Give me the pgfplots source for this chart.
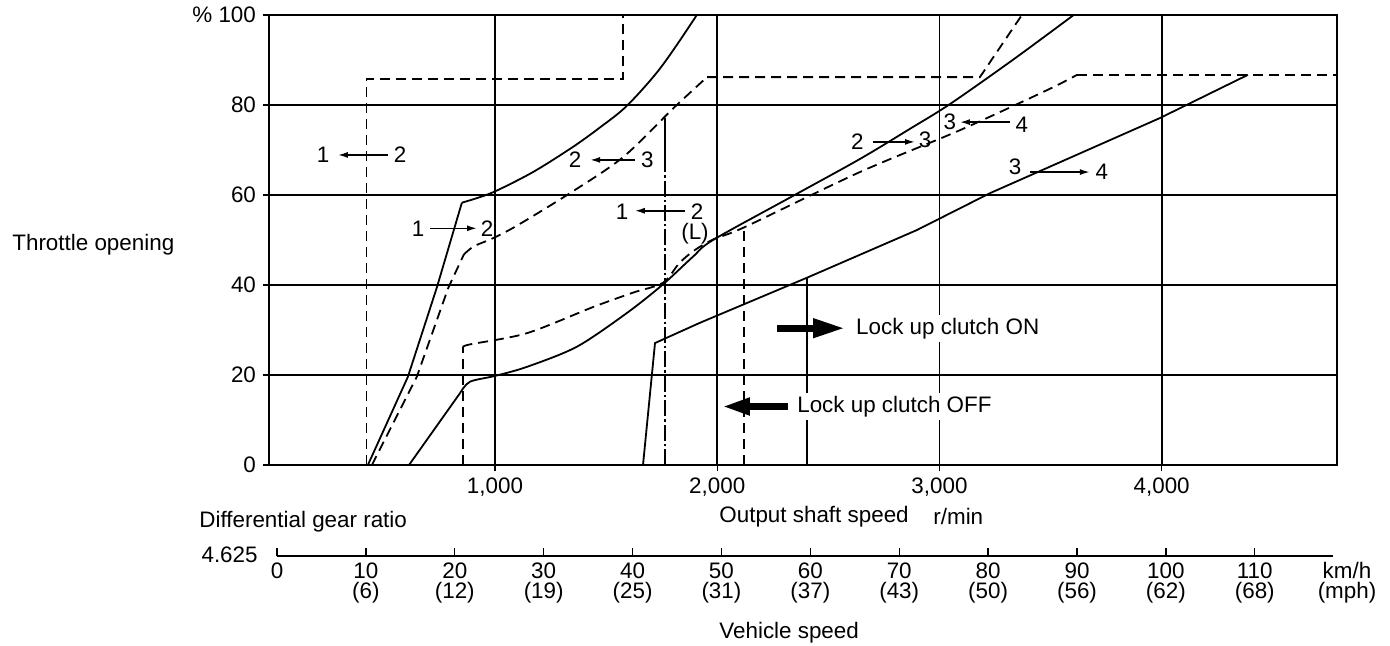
\documentclass[border=0pt]{standalone}
\usepackage{fontspec}
\setmainfont{Liberation Sans}
\usepackage{pgfplots}
\pgfplotsset{compat=1.18}
\usetikzlibrary{arrows.meta}

\newcommand\lbl{\fontsize{11.2}{10}\selectfont}

\pgfplotsset{
  sol/.style={black, line width=0.9pt},
  dsh/.style={black, line width=0.9pt, dash pattern=on 5pt off 3pt},
}
\tikzset{
  lab/.style={inner sep=1pt},
  sarr/.style={line width=0.8pt, -{Latex[length=5pt,width=3pt]}},
}

\begin{document}
\begin{tikzpicture}[font=\lbl]
\path[use as bounding box] (-134.5pt,-90pt) rectangle (560.5pt,232.5pt);

% main shift diagram: output shaft speed (r/min) vs throttle opening (%)
\begin{axis}[
  at={(0pt,0pt)}, anchor=south west,
  scale only axis, width=534pt, height=225pt,
  xmin=-17, xmax=4789, ymin=0, ymax=100,
  xtick={1000,2000,3000,4000},
  xticklabels={{1,000},{2,000},{3,000},{4,000}},
  ytick={0,20,40,60,80,100},
  yticklabels={0,20,40,60,80,{\% 100}},
  grid=major,
  major grid style={black, line width=0.85pt},
  axis line style={line width=0.9pt},
  tick style={black, line width=0.7pt},
  tick align=outside, major tick length=3pt,
  xtick pos=bottom, ytick pos=left,
  tick label style={font=\lbl},
]
% 1<-2 full throttle (dashed)
\addplot[dsh] coordinates {(422,0) (422,85.8) (1577,85.8) (1577,100)};
% 1->2 (solid)
\addplot[sol] coordinates {(428,0) (608,19.6) (738,39.4) (851,58.3)};
\addplot[sol, smooth] coordinates {(851,58.3) (986,60.5) (1171,65.1) (1351,70.7) (1472,75.0) (1593,79.8) (1744,88.2) (1908,100) (1950,104)};
% 2<-3 (dashed)
\addplot[dsh] coordinates {(446,0) (648,19.6) (790,39.4) (860,46.8)};
\addplot[dsh, smooth] coordinates {(860,46.8) (905,48.6) (991,50.4) (1099,53.2) (1337,60.4) (1576,68.4) (1801,79.2) (1954,86.2)};
\addplot[dsh] coordinates {(1954,86.2) (3182,86.2) (3371,100)};
% 2->3 (solid)
\addplot[sol] coordinates {(613,0) (843,16)};
\addplot[sol, smooth] coordinates {(843,16) (887,18.5) (1000,19.8) (1143,21.8) (1369,26.3) (1594,33.8) (1755,40.1) (1891,46.3) (1981,50) (2341,59.8) (2642,68) (2867,74.7) (3047,80.2) (3335,90.2) (3623,100.7)};
% 3<-4 (dashed)
\addplot[dsh] coordinates {(857,0) (857,26.2)};
\addplot[dsh, smooth] coordinates {(857,26.2) (887,26.8) (1144,29.3) (1441,35.1) (1621,38.3) (1756,40.5) (1830,44.9) (1900,47.8) (1985,50.2) (2125,52.9) (2642,65.1) (3092,74.4) (3484,83.3) (3619,86.7)};
\addplot[dsh] coordinates {(3619,86.7) (4789,86.7)};
% 3->4 (solid)
\addplot[sol] coordinates {(1666,0) (1720,27.1) (1922,31.6) (2403,41.6) (2898,52.2) (3227,60.4) (3992,77.1) (4388,86.7)};
% lock up clutch OFF / ON limits
\addplot[dsh] coordinates {(2120,0) (2120,53.0)};
\addplot[sol] coordinates {(2403,0) (2403,41.6)};
% 1<-2 (L)
\addplot[sol] coordinates {(1765,65.5) (1765,77.1)};
\addplot[black, line width=0.9pt, dash pattern=on 8pt off 1.5pt on 1.2pt off 1.5pt] coordinates {(1765,0) (1765,65.5)};

% shift labels
\node[lab] at (axis cs:227,68.9) {1};
\node[lab] at (axis cs:573,68.9) {2};
\draw[sarr] (axis cs:518,68.9) -- (axis cs:293,68.9);
\node[lab] at (axis cs:654,52.6) {1};
\node[lab] at (axis cs:964,52.6) {2};
\draw[sarr] (axis cs:708,52.6) -- (axis cs:919,52.6);
\node[lab] at (axis cs:1360,67.8) {2};
\node[lab] at (axis cs:1685,67.8) {3};
\draw[sarr] (axis cs:1630,67.8) -- (axis cs:1428,67.8);
\node[lab] at (axis cs:1572,56.3) {1};
\node[lab] at (axis cs:1909,56.3) {2};
\node[lab] at (axis cs:1900,51.4) {(L)};
\draw[sarr] (axis cs:1854,56.5) -- (axis cs:1629,56.5);
\node[lab] at (axis cs:2630,71.8) {2};
\node[lab] at (axis cs:2935,72.2) {3};
\draw[sarr] (axis cs:2701,71.8) -- (axis cs:2890,71.8);
\node[lab] at (axis cs:3047,76.3) {3};
\node[lab] at (axis cs:3371,75.6) {4};
\draw[sarr] (axis cs:3317,76.2) -- (axis cs:3092,76.2);
\node[lab] at (axis cs:3340,66.3) {3};
\node[lab] at (axis cs:3731,65.2) {4};
\draw[sarr] (axis cs:3407,65.1) -- (axis cs:3677,65.1);

% lock up clutch
\draw[line width=3.5pt, -{Triangle[length=16pt,width=9pt]}] (axis cs:2269,30.4) -- (axis cs:2575,30.4);
\node[anchor=west, inner sep=1.5pt, fill=white] at (axis cs:2610,30.4) {Lock up clutch ON};
\draw[line width=3.5pt, -{Triangle[length=14pt,width=8pt]}] (axis cs:2318,13) -- (axis cs:2021,13);
\node[anchor=west, inner sep=1.5pt, fill=white] at (axis cs:2345,13) {Lock up clutch OFF};
\end{axis}

% vehicle speed scale
\begin{axis}[
  at={(4pt,-45.5pt)}, anchor=south west,
  scale only axis, width=528pt, height=10pt,
  xmin=0, xmax=118.8, ymin=0, ymax=1,
  hide y axis,
  axis x line*=bottom,
  axis line style={-, line width=0.8pt},
  xtick={0,10,20,30,40,50,60,70,80,90,100,110},
  xticklabels={0,{10\\(6)},{20\\(12)},{30\\(19)},{40\\(25)},{50\\(31)},{60\\(37)},{70\\(43)},{80\\(50)},{90\\(56)},{100\\(62)},{110\\(68)}},
  xticklabel style={align=center, font=\lbl},
  tick align=inside, major tick length=4pt,
  tick style={black, line width=0.7pt},
]
\end{axis}

\node[anchor=west, inner sep=0pt] at (-128.5pt,110pt) {Throttle opening};
\node[anchor=west, inner sep=0pt] at (-35pt,-28.4pt) {Differential gear ratio};
\node[anchor=west, inner sep=0pt] at (225pt,-25.9pt) {Output shaft speed};
\node[anchor=west, inner sep=0pt] at (332pt,-25.9pt) {r/min};
\node[anchor=east, inner sep=0pt] at (-5.5pt,-45pt) {4.625};
\node[align=center, anchor=north, inner sep=0pt] at (539pt,-48.5pt) {km/h\\(mph)};
\node[anchor=west, inner sep=0pt] at (225pt,-84pt) {Vehicle speed};
\end{tikzpicture}
\end{document}
